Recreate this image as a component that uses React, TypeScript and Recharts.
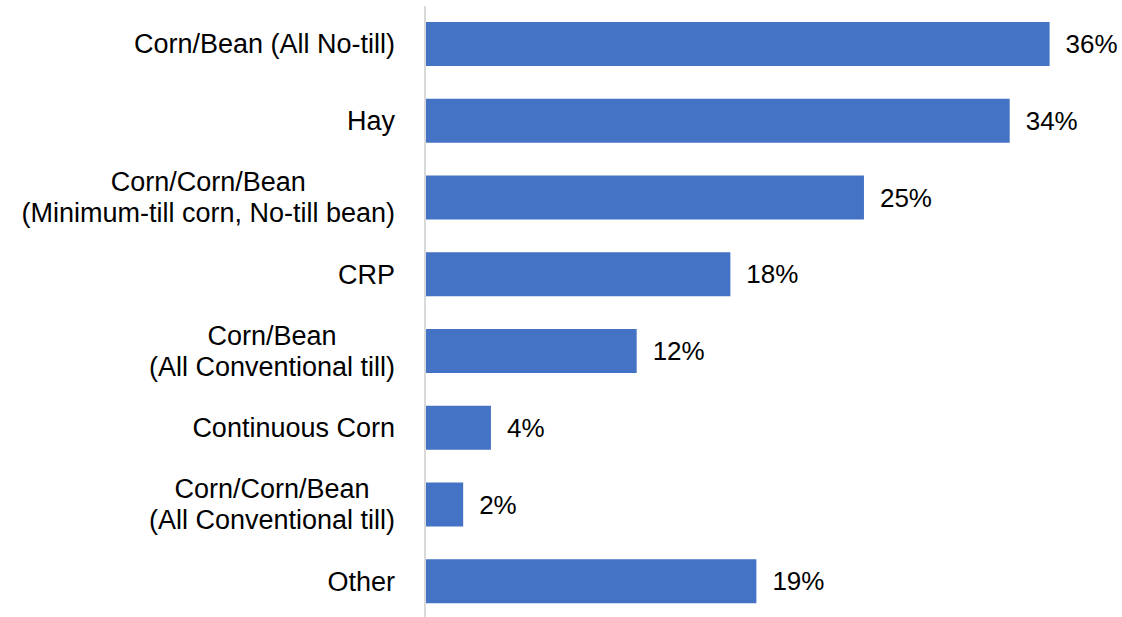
import React from "react";
import { BarChart, Bar, XAxis, YAxis, LabelList } from "recharts";

const categories: string[] = [
  "Corn/Bean (All No-till)",
  "Hay",
  "Corn/Corn/Bean\n(Minimum-till corn, No-till bean)",
  "CRP",
  "Corn/Bean\n(All Conventional till)",
  "Continuous Corn",
  "Corn/Corn/Bean\n(All Conventional till)",
  "Other",
];

const shares: number[] = [36.0, 33.7, 25.3, 17.6, 12.2, 3.8, 2.2, 19.1];

const data = categories.map((name, i) => ({ name, value: shares[i] }));

const FONT = "'Liberation Sans', Arial, sans-serif";
const FONT_SIZE = 27;
const LABEL_SIZE = 26;
const LINE_H = 31;

let ctx: CanvasRenderingContext2D | null = null;
function measure(t: string): number {
  if (!ctx) {
    const c = document.createElement("canvas");
    ctx = c.getContext("2d");
  }
  if (!ctx) return t.length * FONT_SIZE * 0.5;
  ctx.font = `${FONT_SIZE}px ${FONT}`;
  return ctx.measureText(t).width;
}

const CategoryTick = (props: any) => {
  const { x, y, payload } = props;
  const lines: string[] = String(payload.value).split("\n");
  const widths = lines.map(measure);
  const maxW = Math.max(...widths);
  const cx = x - maxW / 2;
  const startY = y - ((lines.length - 1) * LINE_H) / 2;
  return (
    <g>
      {lines.map((ln, i) => (
        <text
          key={i}
          x={cx}
          y={startY + i * LINE_H}
          textAnchor="middle"
          dominantBaseline="central"
          fontFamily={FONT}
          fontSize={FONT_SIZE}
          fill="#000"
        >
          {ln}
        </text>
      ))}
    </g>
  );
};

export default function App() {
  return (
    <div style={{ position: "absolute", left: 0, top: 0, background: "#fff" }}>
      <BarChart
        width={1122}
        height={640}
        data={data}
        layout="vertical"
        margin={{ top: 6, right: 3, bottom: 20, left: 0 }}
      >
        <XAxis type="number" domain={[0, 40]} hide />
        <YAxis
          type="category"
          dataKey="name"
          width={425}
          axisLine={{ stroke: "#d9d9d9", strokeWidth: 2 }}
          tickLine={false}
          tickSize={6}
          tickMargin={24}
          tick={<CategoryTick />}
          interval={0}
        />
        <Bar dataKey="value" fill="#4472C4" barSize={44} isAnimationActive={false}>
          <LabelList
            dataKey="value"
            position="right"
            offset={16}
            formatter={(v: any) => `${Math.round(Number(v))}%`}
            style={{ fontFamily: FONT, fontSize: LABEL_SIZE, fill: "#000" }}
          />
        </Bar>
      </BarChart>
    </div>
  );
}
